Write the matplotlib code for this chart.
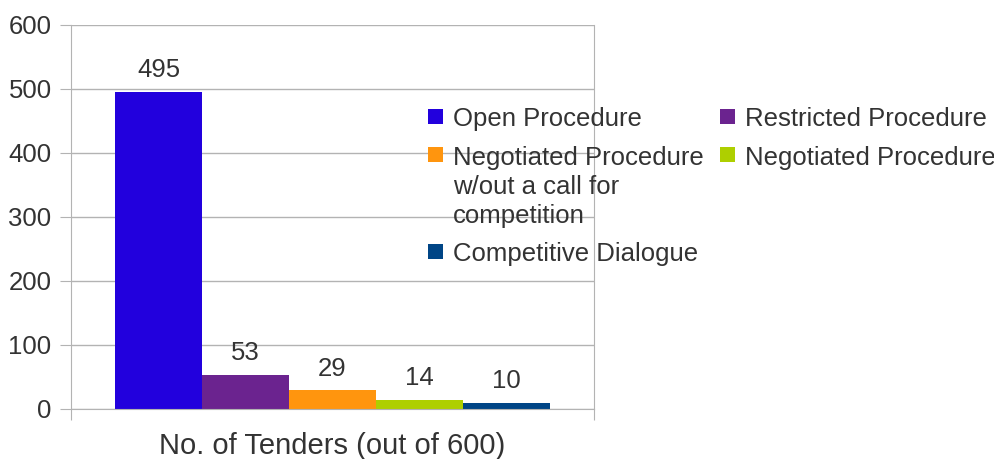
#!/usr/bin/env python3

import matplotlib
matplotlib.use("Agg")
import matplotlib.pyplot as plt
from matplotlib.patches import Rectangle

plt.rcParams['font.family'] = ['Liberation Sans', 'DejaVu Sans']

# data
procedures = ["Open Procedure", "Restricted Procedure",
              "Negotiated Procedure\nw/out a call for\ncompetition",
              "Negotiated Procedure", "Competitive Dialogue"]
tenders = [495, 53, 29, 14, 10]
colors = ["#2200dd", "#6b238f", "#ff950e", "#aecf00", "#004586"]
xlabel = "No. of Tenders (out of 600)"
yticks = [0, 100, 200, 300, 400, 500, 600]

TEXT = "#333333"
GRID = "#b3b3b3"
FS = 18.5
W, H = 994, 459

# legend layout (pixels from top-left): column x of marker, row y centre
LEG_COLS = [428, 720]
LEG_ROWS = [116, 155, 251]
LEG_SLOTS = [(0, 0), (1, 0), (0, 1), (1, 1), (0, 2)]
LINE_H = 29


def draw_legend(fig):
    sq = 15
    for (col, row), lab, c in zip(LEG_SLOTS, procedures, colors):
        x = LEG_COLS[col]
        y = LEG_ROWS[row]
        fig.patches.append(Rectangle((x / W, 1 - (y + sq / 2) / H), sq / W, sq / H,
                                     transform=fig.transFigure, facecolor=c,
                                     edgecolor="none", figure=fig))
        # one text per line so the marker sits beside the first line
        for i, line in enumerate(lab.split("\n")):
            fig.text((x + 25) / W, 1 - (y + i * LINE_H) / H, line, fontsize=FS,
                     color=TEXT, ha="left", va="center_baseline")


def main():
    fig = plt.figure(figsize=(W / 100, H / 100), dpi=100)
    ax = fig.add_axes([71 / W, 50 / H, 523 / W, 384 / H])

    for x, v, c in zip(range(len(tenders)), tenders, colors):
        b = ax.bar(x, v, width=1.0, color=c, zorder=2)
        ax.bar_label(b, padding=7, fontsize=FS, color=TEXT)

    ax.set_ylim(0, 600)
    ax.set_xlim(-1.006, 5.006)
    ax.set_yticks(yticks)
    ax.set_xticks([-1.006, 5.006])
    ax.set_xticklabels(["", ""])
    ax.tick_params(axis="y", length=8, color=GRID, labelsize=FS, labelcolor=TEXT, pad=6)
    ax.tick_params(axis="x", length=8, color=GRID)
    ax.yaxis.grid(True, color=GRID, linewidth=1, zorder=0)
    ax.set_axisbelow(True)
    for s in ("left", "bottom", "right", "top"):
        ax.spines[s].set_color(GRID)
    ax.spines["top"].set_visible(False)
    ax.set_xlabel(xlabel, fontsize=21, color=TEXT, labelpad=5)

    draw_legend(fig)

    fig.savefig("out.png", dpi=100)
    plt.close(fig)


if __name__ == "__main__":
    main()
